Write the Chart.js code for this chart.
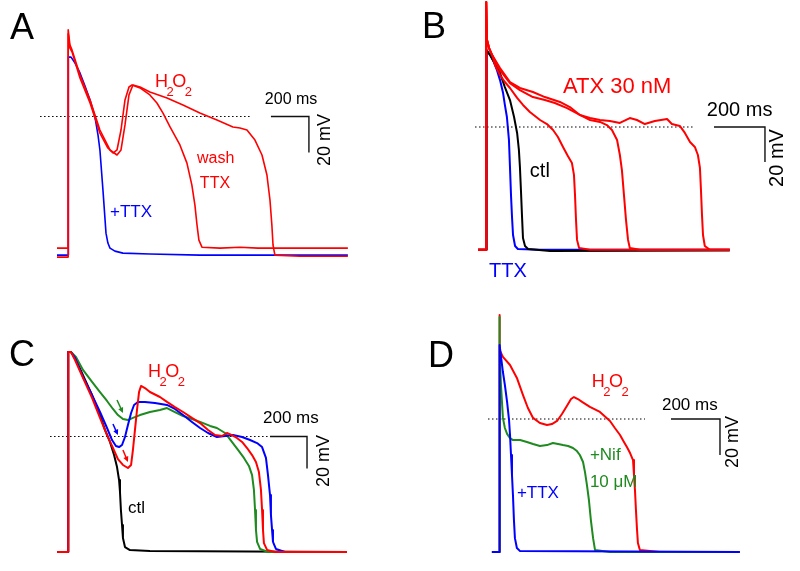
<!DOCTYPE html>
<html><head><meta charset="utf-8">
<script src="https://cdn.jsdelivr.net/npm/chart.js@4/dist/chart.umd.min.js"></script>
<style>
html,body{margin:0;padding:0;background:#fff;}
#wrap{position:relative;width:800px;height:571px;overflow:hidden;background:#fff;}
#wrap canvas{position:absolute;left:0;top:0;}
</style></head><body>
<div id="wrap">
<canvas id="cA" width="800" height="571"></canvas>
<canvas id="cB" width="800" height="571"></canvas>
<canvas id="cC" width="800" height="571"></canvas>
<canvas id="cD" width="800" height="571"></canvas>
</div>
<script>
// ---------- DATA: [time (ms), membrane potential (mV)] ----------
// Panel A
const aTtx = [[-58,-77],[0,-77],[2,33],[16,33],[37,29.7],[63,24.2],[89,17],[116,9.2],[142,-0.3],[158,-10.3],[168,-18.6],[184,-40.9],[200,-64.8],[210,-70.3],[221,-73.1],[247,-74.8],[289,-75.9],[431,-76.4],[694,-77],[1473,-77]];
const aWash = [[-58,-73.1],[0,-73.1],[1,46],[10,38],[21,35.9],[63,21.4],[116,7.5],[168,-9.2],[210,-17.5],[237,-20.3],[258,-18.6],[279,-7.5],[300,9.2],[321,16.4],[337,17.5],[379,15.9],[431,12],[468,7.5],[500,1.9],[537,-5.8],[589,-15.8],[626,-25.9],[652,-38.1],[668,-49.2],[679,-60.3],[689,-68.7],[705,-72.6],[800,-73.1],[905,-72.6],[1000,-73.1],[1473,-73.1]];
const aH2o2 = [[-58,-78.1],[0,-78.1],[1,48.1],[10,39.8],[21,37],[63,23],[116,9.2],[168,-7.5],[221,-18.6],[258,-21.4],[279,-18.6],[300,-4.7],[321,12],[342,17.5],[379,16.4],[431,13.6],[521,10.3],[605,6.4],[694,1.9],[784,-1.9],[868,-5.8],[905,-6.4],[942,-7.5],[984,-13.1],[1021,-21.4],[1047,-32.5],[1063,-46.4],[1073,-60.3],[1079,-71.4],[1089,-77],[1220,-77.6],[1473,-77.6]];
// Panel B
const bTtx = [[-31,-70.2],[0,-70.2],[2,44],[16,41.1],[31,37.1],[43,32.5],[55,26.8],[67,19.4],[74,12.6],[82,5.7],[90,-7.4],[94,-22.8],[98,-38.8],[102,-51.4],[106,-61.7],[114,-68],[125,-69.7],[212,-70.2],[956,-70.2]];
const bCtl = [[-31,-70.2],[0,-70.2],[2,44],[16,41.1],[31,37.1],[55,30.8],[74,22.8],[94,15.4],[110,5.7],[122,-3.4],[129,-13.1],[133,-22.8],[137,-36],[141,-50.2],[145,-63.4],[153,-68],[165,-69.7],[251,-70.8],[956,-70.5]];
const bAtx1 = [[-31,-70.2],[0,-70.2],[1,71.4],[4,49.7],[12,45.1],[24,41.1],[35,35.4],[55,29.7],[74,25.7],[94,22.3],[122,16.6],[145,12.6],[172,8.6],[212,4],[239,1.7],[263,-1.7],[282,-5.7],[302,-11.4],[321,-16.6],[337,-20.6],[345,-27.4],[349,-38.8],[353,-53.1],[357,-64.5],[365,-69.1],[408,-70.2],[956,-70.2]];
const bAtx2 = [[-31,-70.2],[0,-70.2],[1,71.4],[4,49.7],[12,45.1],[24,41.1],[55,32.5],[94,25.1],[133,21.1],[184,17.1],[231,15.4],[270,13.7],[318,10.8],[368,6.9],[408,4],[447,2.9],[474,1.1],[494,-1.7],[514,-7.4],[525,-16],[533,-24.6],[541,-38.8],[549,-53.1],[557,-64.5],[564,-69.1],[604,-70.2],[956,-70.2]];
const bAtx3 = [[-31,-70.2],[0,-70.2],[1,71.4],[4,49.7],[12,45.1],[24,41.1],[55,33.7],[94,25.7],[133,22.3],[184,20],[231,17.1],[290,14.3],[329,11.4],[368,6.9],[408,5.1],[447,4],[486,3.4],[525,2.3],[564,5.1],[592,4],[623,1.7],[662,3.4],[710,4.6],[729,1.7],[760,0.6],[780,-3.4],[800,-8.6],[819,-11.4],[831,-16],[839,-23.4],[843,-36],[847,-50.2],[851,-61.7],[858,-68],[878,-70.2],[956,-70.2]];
// Panel C
const cCtl = [[-59,-72.2],[0,-72.2],[1,52.8],[16,52.8],[38,49.1],[81,38.4],[130,25.9],[173,13.4],[200,4.1],[227,-3.4],[249,-11.6],[265,-19.1],[276,-27.2],[281,-34.7],[286,-45.9],[292,-55.3],[297,-63.4],[308,-69.1],[335,-71],[443,-71.6],[1508,-72.2]];
const cH2o2 = [[-59,-72.2],[0,-72.2],[1,52.8],[16,52.8],[38,47.8],[81,36.6],[130,24.1],[173,11.6],[211,0.9],[243,-7.2],[270,-14.1],[297,-17.8],[324,-19.7],[341,-17.8],[351,-8.4],[362,4.1],[373,16.6],[384,27.8],[395,31.6],[416,30.3],[443,27.8],[497,24.7],[535,21.6],[578,18.4],[622,15.3],[670,11.6],[714,8.4],[757,4.1],[795,0.9],[832,0.3],[859,2.2],[886,0.9],[913,-0.9],[941,-3.4],[968,-7.2],[995,-11.6],[1016,-15.9],[1032,-22.2],[1043,-33.4],[1049,-45.9],[1054,-58.4],[1059,-66.6],[1076,-70.9],[1119,-72.2],[1508,-72.2]];
const cBlue = [[-59,-72.2],[0,-72.2],[1,52.8],[16,52.8],[38,49.1],[81,37.2],[130,25.9],[173,15.3],[211,5.3],[238,-2.2],[259,-5.9],[276,-6.6],[292,-5.3],[308,-0.3],[324,7.2],[341,14.7],[357,19.7],[378,21.6],[416,21.6],[470,20.9],[535,19.7],[578,17.2],[622,13.4],[670,9.1],[714,5.3],[757,2.2],[805,-0.3],[849,0.3],[892,0.9],[941,-0.3],[984,-2.2],[1022,-4.1],[1049,-6.6],[1070,-13.4],[1081,-24.1],[1092,-36.6],[1097,-49.1],[1103,-58.4],[1108,-65.9],[1124,-70.3],[1173,-72.2],[1508,-72.2]];
const cGreen = [[-59,-72.2],[0,-72.2],[1,52.8],[16,52.8],[43,49.7],[81,41.6],[130,34.1],[173,27.8],[211,22.2],[243,17.2],[270,13.4],[297,10.9],[324,10.3],[351,11.6],[389,13.4],[443,15.3],[497,16.6],[535,17.8],[578,15.3],[622,12.8],[670,10.9],[714,9.1],[768,6.6],[805,5.3],[849,2.2],[886,-3.4],[919,-8.4],[951,-13.4],[978,-18.4],[995,-24.1],[1005,-33.4],[1011,-45.9],[1016,-58.4],[1022,-65.9],[1038,-70.3],[1081,-72.2],[1508,-72.2]];
// Panel D
const dH2o2 = [[-29,-73.9],[0,-73.9],[1,57.8],[4,38.4],[16,34.5],[45,30],[73,22.8],[98,13.3],[118,6.1],[139,0.6],[167,-2.2],[196,-3.3],[216,-2.8],[237,-1.1],[257,2.8],[277,7.2],[294,11.1],[306,12.2],[322,11.1],[339,9.5],[371,6.7],[412,3.9],[453,-1.1],[473,-5],[494,-8.9],[510,-12.8],[522,-15.6],[535,-18.9],[547,-22.8],[551,-31.1],[555,-39.5],[559,-50.6],[563,-60.6],[567,-68.9],[575,-72.8],[657,-73.9],[983,-73.9]];
const dNif = [[-29,-73.9],[0,-73.9],[1,56.7],[4,38.4],[8,18.9],[16,0.6],[24,-5],[33,-8.3],[45,-10.6],[57,-11.7],[86,-11.7],[114,-12.8],[139,-13.9],[167,-15],[196,-14.5],[220,-13.3],[241,-13.9],[261,-14.5],[282,-15],[302,-16.1],[318,-17.8],[330,-20],[343,-23.9],[351,-29.5],[359,-36.7],[367,-45],[375,-56.2],[384,-66.2],[392,-72.8],[453,-73.9],[983,-73.9]];
const dTtx = [[-29,-73.9],[0,-73.9],[1,41.1],[4,41.1],[16,26.1],[24,18.9],[33,9.5],[41,-0.6],[45,-8.9],[49,-20],[53,-31.1],[57,-42.3],[61,-56.2],[65,-66.2],[73,-71.7],[86,-73.4],[983,-73.9]];
// Scale bars (ms, mV) and 0 mV reference extents (ms)
const scaleBarMs = 200, scaleBarMv = 20;
const zeroLineA = [-147, 957], zeroLineB = [-43, 811], zeroLineC = [-97, 1081], zeroLineD = [-45, 596];

// ---------- LAYOUT / STYLE ----------
const FONT = "'Liberation Sans', Arial, Helvetica, sans-serif";
const RED = '#ff0000', BLUE = '#0000ff', GREEN = '#1f8a1f', BLACK = '#000000';

const textPlugin = {
  id: 'panelText',
  afterDatasetsDraw(chart, args, opts) {
    const ctx = chart.ctx, xs = chart.scales.x, ys = chart.scales.y;
    ctx.save();
    for (const it of (opts.items || [])) {
      ctx.fillStyle = it.color || BLACK;
      ctx.strokeStyle = it.color || BLACK;
      if (it.arrow) {
        const [t1, v1, t2, v2] = it.arrow;
        const x1 = xs.getPixelForValue(t1), y1 = ys.getPixelForValue(v1);
        const x2 = xs.getPixelForValue(t2), y2 = ys.getPixelForValue(v2);
        const ang = Math.atan2(y2 - y1, x2 - x1), h = 6;
        ctx.lineWidth = 1.5;
        ctx.beginPath(); ctx.moveTo(x1, y1); ctx.lineTo(x2 - Math.cos(ang) * 3, y2 - Math.sin(ang) * 3); ctx.stroke();
        ctx.beginPath();
        ctx.moveTo(x2, y2);
        ctx.lineTo(x2 - h * Math.cos(ang - 0.45), y2 - h * Math.sin(ang - 0.45));
        ctx.lineTo(x2 - h * Math.cos(ang + 0.45), y2 - h * Math.sin(ang + 0.45));
        ctx.closePath(); ctx.fill();
        continue;
      }
      const px = xs.getPixelForValue(it.t), py = ys.getPixelForValue(it.v);
      ctx.textBaseline = 'alphabetic';
      if (it.rotate) {
        ctx.save();
        ctx.translate(px, py); ctx.rotate(-Math.PI / 2);
        ctx.font = it.size + 'px ' + FONT; ctx.textAlign = 'center';
        ctx.fillText(it.text, 0, 0);
        ctx.restore();
      } else if (it.parts) {
        let x = px;
        for (const p of it.parts) {
          const sub = /[0-9]/.test(p);
          ctx.font = (sub ? it.subSize : it.size) + 'px ' + FONT;
          ctx.textAlign = 'left';
          ctx.fillText(p, x, py + (sub ? it.subShift : 0));
          x += ctx.measureText(p).width + (it.kern || 0);
        }
      } else {
        ctx.font = it.size + 'px ' + FONT; ctx.textAlign = 'left';
        ctx.fillText(it.text, px, py);
      }
    }
    ctx.restore();
  }
};

function pts(arr) { return arr.map(p => ({ x: p[0], y: p[1] })); }
function trace(arr, color, w) {
  return { data: pts(arr), borderColor: color, borderWidth: w, pointRadius: 0, tension: 0, fill: false, borderJoinStyle: 'round' };
}
function zeroLine(ext) {
  return { data: [{ x: ext[0], y: 0 }, { x: ext[1], y: 0 }], borderColor: '#000', borderWidth: 1.2, borderDash: [1.5, 2.5], pointRadius: 0, fill: false };
}
function scaleBar(t0) {
  return { data: [{ x: t0, y: 0 }, { x: t0 + scaleBarMs, y: 0 }, { x: t0 + scaleBarMs, y: -scaleBarMv }], borderColor: '#111', borderWidth: 1.4, pointRadius: 0, fill: false, tension: 0, borderJoinStyle: 'miter' };
}
function H2O2(t, v, color) {
  return { parts: ['H', '2', 'O', '2'], t, v, size: 18, subSize: 13, subShift: 9, kern: -1.5, color };
}

function makePanel(id, cal, datasets, items) {
  const xmin = -cal.stimPx * cal.msPerPx, xmax = (800 - cal.stimPx) * cal.msPerPx;
  const ymax = cal.zeroPx * cal.mvPerPx, ymin = ymax - 571 * cal.mvPerPx;
  new Chart(document.getElementById(id), {
    type: 'line',
    data: { datasets },
    options: {
      responsive: false, maintainAspectRatio: false, devicePixelRatio: 1, animation: false, events: [],
      layout: { padding: 0 },
      scales: {
        x: { type: 'linear', min: xmin, max: xmax, display: false },
        y: { type: 'linear', min: ymin, max: ymax, display: false }
      },
      plugins: { legend: { display: false }, tooltip: { enabled: false }, panelText: { items } }
    },
    plugins: [textPlugin]
  });
}

// Panel A
makePanel('cA', { stimPx: 68, zeroPx: 116.5, msPerPx: 200 / 38, mvPerPx: 20 / 36 },
  [trace(aH2o2, RED, 1.6), trace(aWash, RED, 1.6), trace(aTtx, BLUE, 1.6), zeroLine(zeroLineA), scaleBar(1068)],
  [
    { text: 'A', t: -305, v: 43.1, size: 36 },
    H2O2(458, 16.4, RED),
    { text: 'wash', t: 679, v: -25.9, size: 16, color: RED },
    { text: 'TTX', t: 694, v: -39.8, size: 16, color: RED },
    { text: '+TTX', t: 221, v: -55.9, size: 17, color: BLUE },
    { text: '200 ms', t: 1036, v: 6.9, size: 16 },
    { text: '20 mV', t: 1379, v: -13.1, size: 18, rotate: true }
  ]);

// Panel B
makePanel('cB', { stimPx: 486, zeroPx: 127, msPerPx: 200 / 51, mvPerPx: 20 / 35 },
  [trace(bAtx1, RED, 2), trace(bAtx2, RED, 2), trace(bAtx3, RED, 2), trace(bCtl, BLACK, 2), trace(bTtx, BLUE, 2), zeroLine(zeroLineB), scaleBar(894)],
  [
    { text: 'B', t: -251, v: 50.9, size: 36 },
    { text: 'ATX 30 nM', t: 302, v: 19.4, size: 22, color: RED },
    { text: 'ctl', t: 172, v: -28.6, size: 20 },
    { text: 'TTX', t: 12, v: -85.7, size: 20, color: BLUE },
    { text: '200 ms', t: 866, v: 6.3, size: 20 },
    { text: '20 mV', t: 1165, v: -17.7, size: 20, rotate: true }
  ]);

// Panel C
makePanel('cC', { stimPx: 68, zeroPx: 436.5, msPerPx: 200 / 37, mvPerPx: 20 / 32 },
  [trace(cH2o2, RED, 2), trace(cBlue, BLUE, 2), trace(cGreen, GREEN, 2), trace(cCtl, BLACK, 2), zeroLine(zeroLineC), scaleBar(1092)],
  [
    { text: 'C', t: -319, v: 44.1, size: 36 },
    H2O2(432, 37.2, RED),
    { text: 'ctl', t: 324, v: -47.8, size: 17 },
    { text: '200 ms', t: 1054, v: 8.4, size: 17 },
    { text: '20 mV', t: 1411, v: -15.3, size: 18, rotate: true },
    { arrow: [265, 22.8, 297, 14.7], color: GREEN },
    { arrow: [243, 7.8, 270, 0.9], color: BLUE },
    { arrow: [297, -8.4, 324, -15.9], color: RED }
  ]);

// Panel D
makePanel('cD', { stimPx: 499, zeroPx: 419, msPerPx: 200 / 49, mvPerPx: 20 / 36 },
  [trace(dTtx, BLUE, 2), trace(dNif, GREEN, 2), trace(dH2o2, RED, 2), zeroLine(zeroLineD), scaleBar(702)],
  [
    { text: 'D', t: -290, v: 28.9, size: 36 },
    H2O2(379, 17.8, RED),
    { text: '+Nif', t: 371, v: -22.8, size: 17, color: GREEN },
    { text: '10 \u03bcM', t: 371, v: -37.8, size: 17, color: GREEN },
    { text: '+TTX', t: 73, v: -43.9, size: 17, color: BLUE },
    { text: '200 ms', t: 665, v: 5, size: 17 },
    { text: '20 mV', t: 975, v: -12.8, size: 18, rotate: true }
  ]);
</script>
</body></html>
